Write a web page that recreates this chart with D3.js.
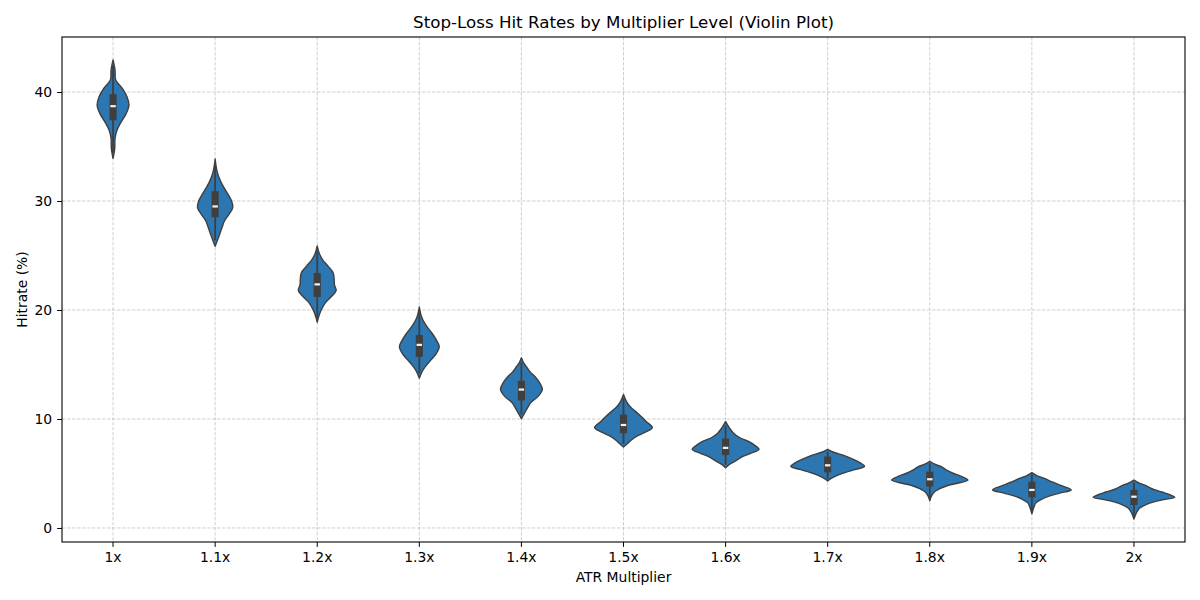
<!DOCTYPE html>
<html>
<head>
<meta charset="utf-8">
<script src="https://cdn.jsdelivr.net/npm/d3@7"></script>
<style>
  body { margin: 0; background: #fff; }
  svg text { font-family: "DejaVu Sans", sans-serif; fill: #000; }
</style>
</head>
<body>
<div id="chart"></div>
<script>
// categories on the x axis
const categories = ['1x', '1.1x', '1.2x', '1.3x', '1.4x', '1.5x', '1.6x', '1.7x', '1.8x', '1.9x', '2x'];

// density profiles: [hitrate, relative density]
const profile1x = [[42.94,0],[42.0,2],[41.1,2.7],[40.34,9.3],[39.57,14],[38.81,16],[38.04,13.3],[37.28,8.3],[36.51,4],[35.75,2],[34.83,1.7],[33.92,0]];
const profile11x = [[33.85,0],[32.7,2],[31.8,5.5],[31.2,9],[30.6,13],[30.0,16.5],[29.4,17.7],[28.8,14],[28.2,9.5],[27.6,7],[26.8,4],[26.2,1.5],[25.85,0]];
const profile12x = [[25.87,0],[25.2,2],[24.6,5.5],[24.0,11],[23.4,16],[22.8,17],[22.3,17.3],[21.8,19],[21.3,15],[20.7,8.5],[20.0,4],[19.4,1.5],[18.88,0]];
const profile13x = [[20.27,0],[19.6,1.5],[19.1,3.5],[18.5,7.5],[17.9,12.5],[17.3,16.8],[16.65,20],[16.0,17],[15.4,11.5],[14.8,6],[14.3,2.5],[13.73,0]];
const profile14x = [[15.62,0],[15.1,2.5],[14.8,5],[14.3,9],[13.9,13.5],[13.3,18.5],[12.7,21],[12.1,17],[11.5,9.5],[11.0,6],[10.6,3.5],[10.03,0]];
const profile15x = [[12.25,0],[11.6,3],[11.1,7],[10.7,12],[10.2,18],[9.75,23],[9.2,29],[8.8,22],[8.4,13],[8.0,7],[7.7,3.5],[7.43,0]];
const profile16x = [[9.75,0],[9.15,4],[8.7,8],[8.3,14],[7.95,23],[7.6,29],[7.22,33.5],[6.85,25],[6.5,16],[6.2,11],[5.9,5],[5.52,0]];
const profile17x = [[7.22,0],[6.95,6],[6.6,18],[6.2,28],[5.95,33],[5.65,37],[5.35,27],[5.1,18],[4.8,9],[4.55,3.5],[4.31,0]];
const profile18x = [[6.12,0],[5.85,5],[5.6,12],[5.3,17],[5.0,24],[4.75,31],[4.4,38.3],[4.15,30],[3.9,18],[3.6,10],[3.3,4.5],[2.9,1.5],[2.49,0]];
const profile19x = [[5.08,0],[4.8,5],[4.55,12.5],[4.2,21],[3.9,29],[3.5,39.5],[3.2,28],[2.95,18],[2.6,9],[2.3,4],[1.9,2],[1.3,0]];
const profile2x = [[4.4,0],[4.1,6],[3.85,13],[3.6,18],[3.3,28],[3.05,36],[2.82,41],[2.6,30],[2.4,20],[2.1,11],[1.8,5.5],[1.4,2.5],[0.82,0]];
const profiles = [profile1x, profile11x, profile12x, profile13x, profile14x, profile15x,
                  profile16x, profile17x, profile18x, profile19x, profile2x];

// inner box stats per category
const q1 = [37.4, 28.5, 21.2, 15.7, 11.7, 8.7, 6.7, 5.1, 3.8, 2.81, 2.11];
const medians = [38.7, 29.5, 22.35, 16.8, 12.7, 9.45, 7.35, 5.75, 4.47, 3.49, 2.87];
const q3 = [39.8, 30.9, 23.4, 17.7, 13.5, 10.4, 8.2, 6.55, 5.17, 4.25, 3.49];
const whiskerLow = [34.4, 26.4, 19.3, 14.2, 10.4, 7.7, 5.8, 4.5, 2.7, 1.5, 1.0];
const whiskerHigh = [42.4, 33.3, 25.4, 19.8, 15.2, 11.9, 9.4, 7.0, 5.95, 4.9, 4.2];

const yTicks = [0, 10, 20, 30, 40];

const margin = { top: 37, right: 15, bottom: 58, left: 62 };
const width = 1200 - margin.left - margin.right;
const height = 600 - margin.top - margin.bottom;

const svg = d3.select('#chart')
  .append('svg')
  .attr('width', 1200)
  .attr('height', 600);

const g = svg.append('g')
  .attr('transform', `translate(${margin.left}, ${margin.top})`);

const x = d3.scaleBand().domain(categories).range([0, width]).padding(0);
// matplotlib style 5% margins around the data extent
const yMin = d3.min(profiles, p => d3.min(p, d => d[0]));
const yMax = d3.max(profiles, p => d3.max(p, d => d[0]));
const pad = (yMax - yMin) * 0.05;
const y = d3.scaleLinear().domain([yMin - pad, yMax + pad]).range([height, 0]);

const maxDensity = d3.max(profiles, p => d3.max(p, d => d[1]));
const w = d3.scaleLinear().domain([0, maxDensity]).range([0, x.bandwidth() * 0.4]);

// grid
const gridColor = '#b0b0b0';
g.append('g')
  .selectAll('line')
  .data(yTicks)
  .enter()
  .append('line')
  .attr('x1', 0).attr('x2', width)
  .attr('y1', d => y(d)).attr('y2', d => y(d))
  .attr('stroke', gridColor).attr('stroke-width', 0.6)
  .attr('stroke-dasharray', '3.5,1.5');
g.append('g')
  .selectAll('line')
  .data(categories)
  .enter()
  .append('line')
  .attr('x1', d => x(d) + x.bandwidth() / 2).attr('x2', d => x(d) + x.bandwidth() / 2)
  .attr('y1', 0).attr('y2', height)
  .attr('stroke', gridColor).attr('stroke-width', 0.6)
  .attr('stroke-dasharray', '3.5,1.5');

// violins
const violins = g.selectAll('.violin')
  .data(categories)
  .enter()
  .append('g')
  .attr('class', 'violin')
  .attr('transform', d => `translate(${x(d) + x.bandwidth() / 2}, 0)`);

const area = d3.area()
  .y(d => y(d[0]))
  .x0(d => -w(d[1]))
  .x1(d => w(d[1]))
  .curve(d3.curveCatmullRom);

violins.append('path')
  .attr('d', (d, i) => area(profiles[i]))
  .attr('fill', '#2c76b1')
  .attr('stroke', '#3f3f3f')
  .attr('stroke-width', 1.4)
  .attr('stroke-linejoin', 'round');

const boxW = x.bandwidth() * 0.07;

violins.append('line')
  .attr('x1', 0).attr('x2', 0)
  .attr('y1', (d, i) => y(whiskerHigh[i]))
  .attr('y2', (d, i) => y(whiskerLow[i]))
  .attr('stroke', '#3f3f3f')
  .attr('stroke-width', 1.8);

violins.append('rect')
  .attr('x', -boxW / 2)
  .attr('width', boxW)
  .attr('y', (d, i) => y(q3[i]))
  .attr('height', (d, i) => y(q1[i]) - y(q3[i]))
  .attr('fill', '#3f3f3f');

violins.append('rect')
  .attr('x', -boxW * 0.38)
  .attr('width', boxW * 0.76)
  .attr('y', (d, i) => y(medians[i]) - 1.1)
  .attr('height', 2.2)
  .attr('fill', '#f2f2f2');

// axes
const xAxis = g.append('g')
  .attr('transform', `translate(0, ${height})`)
  .call(d3.axisBottom(x).tickSize(4.9).tickPadding(5));
const yAxis = g.append('g')
  .call(d3.axisLeft(y).tickValues(yTicks).tickSize(4.9).tickPadding(5));

[xAxis, yAxis].forEach(a => {
  a.select('.domain').remove();
  a.selectAll('line').attr('stroke', '#000').attr('stroke-width', 1);
  a.selectAll('text')
    .style('font-family', '"DejaVu Sans", sans-serif')
    .style('font-size', '13.9px')
    .attr('fill', '#000');
});

// frame
g.append('rect')
  .attr('width', width)
  .attr('height', height)
  .attr('fill', 'none')
  .attr('stroke', '#000')
  .attr('stroke-width', 1.1);

// labels
svg.append('text')
  .attr('x', margin.left + width / 2)
  .attr('y', 28)
  .attr('text-anchor', 'middle')
  .style('font-size', '16.7px')
  .text('Stop-Loss Hit Rates by Multiplier Level (Violin Plot)');

svg.append('text')
  .attr('x', margin.left + width / 2)
  .attr('y', 582)
  .attr('text-anchor', 'middle')
  .style('font-size', '13.9px')
  .text('ATR Multiplier');

svg.append('text')
  .attr('transform', `translate(27, ${margin.top + height / 2}) rotate(-90)`)
  .attr('text-anchor', 'middle')
  .style('font-size', '13.9px')
  .text('Hitrate (%)');
</script>
</body>
</html>
